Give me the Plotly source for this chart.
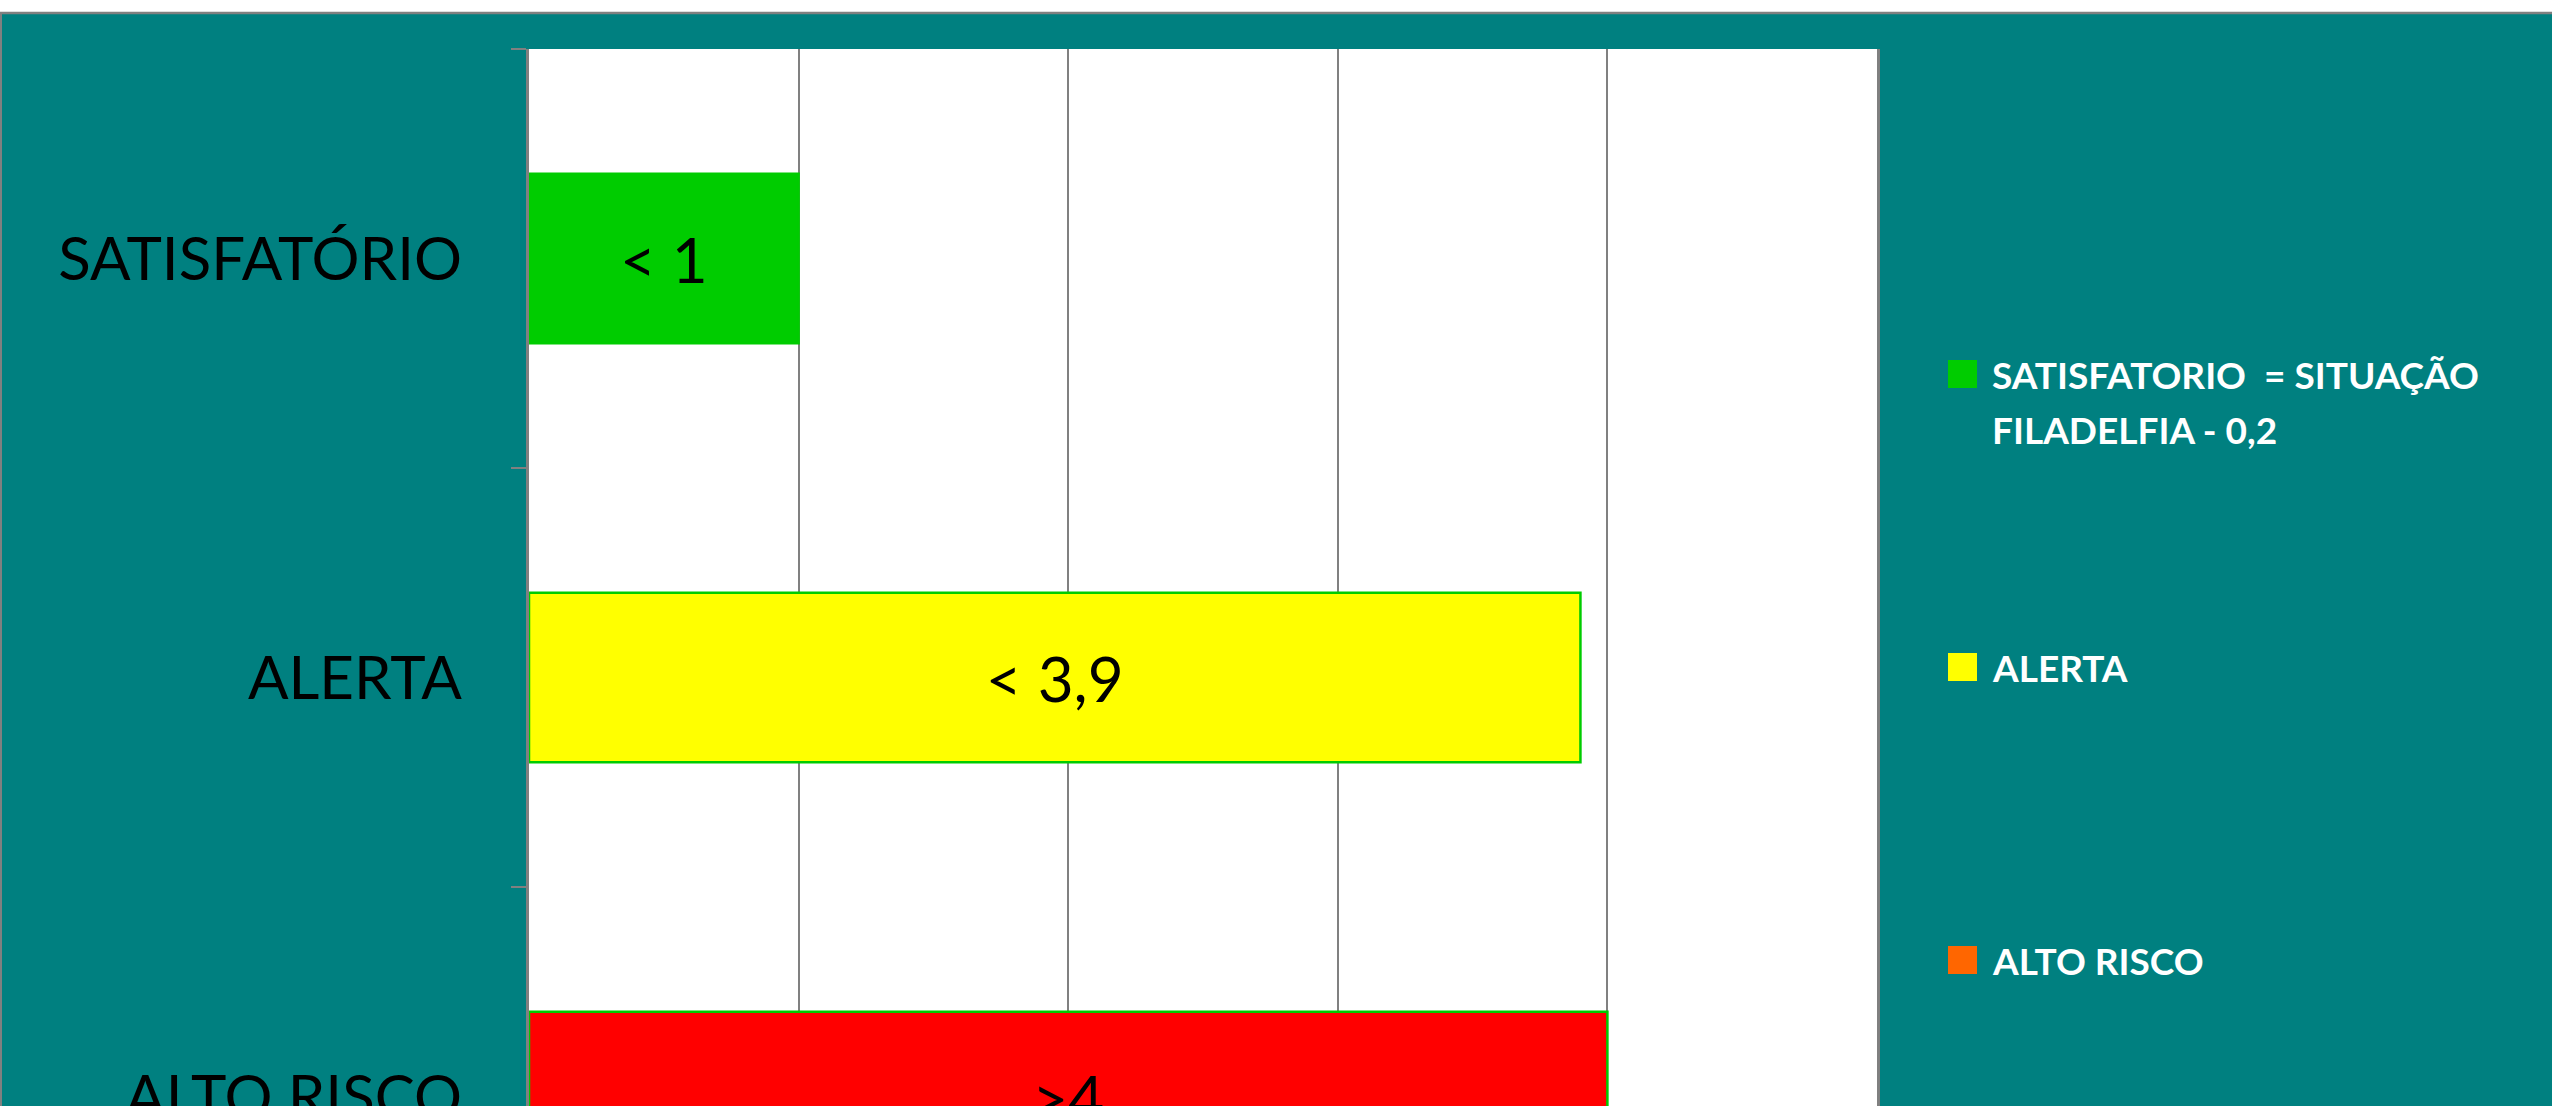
import plotly.graph_objects as go

# ---------------- data ----------------
categories = ["SATISFATÓRIO", "ALERTA", "ALTO RISCO"]
values = [1.0, 3.9, 4.0]
bar_labels = ["< 1", "< 3,9", ">4"]
bar_colors = ["#00CC00", "#FFFF00", "#FF0000"]
legend_labels = [["SATISFATORIO  = SITUAÇÃO", "FILADELFIA - 0,2"], ["ALERTA"], ["ALTO RISCO"]]
legend_colors = ["#00CC00", "#FFFF00", "#FF6600"]
x_ticks = [0, 1, 2, 3, 4, 5]

# ---------------- layout geometry (pixels) ----------------
W, H = 2552, 1106
L, R, T = 529, 1877, 49
BAND = 419  # pixel height of one category band


def px2x(px):
    return (px - L) / (R - L)


def py2y(py):
    return (H - py) / (H - T)


TEAL = "#008080"
GRAY = "#808080"
FONT = "Lato, 'Open Sans', sans-serif"

fig = go.Figure()
fig.add_trace(go.Bar(
    y=categories,
    x=values,
    orientation="h",
    width=0.405,
    marker=dict(color=bar_colors, line=dict(color="#00CC00", width=2.5)),
    text=bar_labels,
    textposition="inside",
    insidetextanchor="middle",
    textangle=0,
    textfont=dict(family=FONT, size=62, color="black"),
    showlegend=False,
    hoverinfo="skip",
))

shapes = [
    # white strip at the very top of the page
    dict(type="rect", xref="paper", yref="paper", x0=px2x(-5), x1=px2x(W + 5),
         y0=py2y(13), y1=py2y(-5), fillcolor="white", line=dict(width=0), layer="above"),
    # outer grey border (top and left)
    dict(type="line", xref="paper", yref="paper", x0=px2x(0), x1=px2x(W + 5),
         y0=py2y(13), y1=py2y(13), line=dict(color=GRAY, width=2.5)),
    dict(type="line", xref="paper", yref="paper", x0=px2x(1), x1=px2x(1),
         y0=py2y(13), y1=py2y(H + 5), line=dict(color=GRAY, width=2)),
]

annotations = []
legend_centers = [374, 667, 960]
LINE_GAP = 55
for lines, col, cy in zip(legend_labels, legend_colors, legend_centers):
    shapes.append(dict(type="rect", xref="paper", yref="paper",
                       x0=px2x(1948), x1=px2x(1977), y0=py2y(cy + 14), y1=py2y(cy - 14),
                       fillcolor=col, line=dict(width=0)))
    for i, line in enumerate(lines):
        annotations.append(dict(
            xref="paper", yref="paper", x=px2x(1990), y=py2y(cy + i * LINE_GAP),
            xanchor="left", yanchor="middle",
            text="<b>" + line + "</b>", showarrow=False, align="left",
            font=dict(family=FONT, size=37, color="white"),
        ))

fig.update_layout(
    width=W, height=H,
    margin=dict(l=L, r=W - R, t=T, b=0, pad=0, autoexpand=False),
    paper_bgcolor=TEAL,
    plot_bgcolor="white",
    bargap=0.595,
    xaxis=dict(range=[0, 5], tickvals=x_ticks, showgrid=True, gridcolor=GRAY, gridwidth=2,
               zeroline=False, showticklabels=False, showline=False, ticks="",
               automargin=False),
    yaxis=dict(type="category", categoryorder="array", categoryarray=categories,
               range=[-0.5 + (H - T) / BAND, -0.5],
               showline=True, mirror=True, linecolor=GRAY, linewidth=3,
               ticks="outside", tickson="boundaries", ticklen=15, tickwidth=2, tickcolor=GRAY,
               showgrid=False, zeroline=False, ticklabelstandoff=52, automargin=False,
               tickfont=dict(family=FONT, size=60, color="black")),
    shapes=shapes,
    annotations=annotations,
    showlegend=False,
    font=dict(family=FONT),
)

fig.write_html("out.html", config={"displayModeBar": False},
               post_script="document.body.style.margin='0';document.body.style.overflow='hidden';")
